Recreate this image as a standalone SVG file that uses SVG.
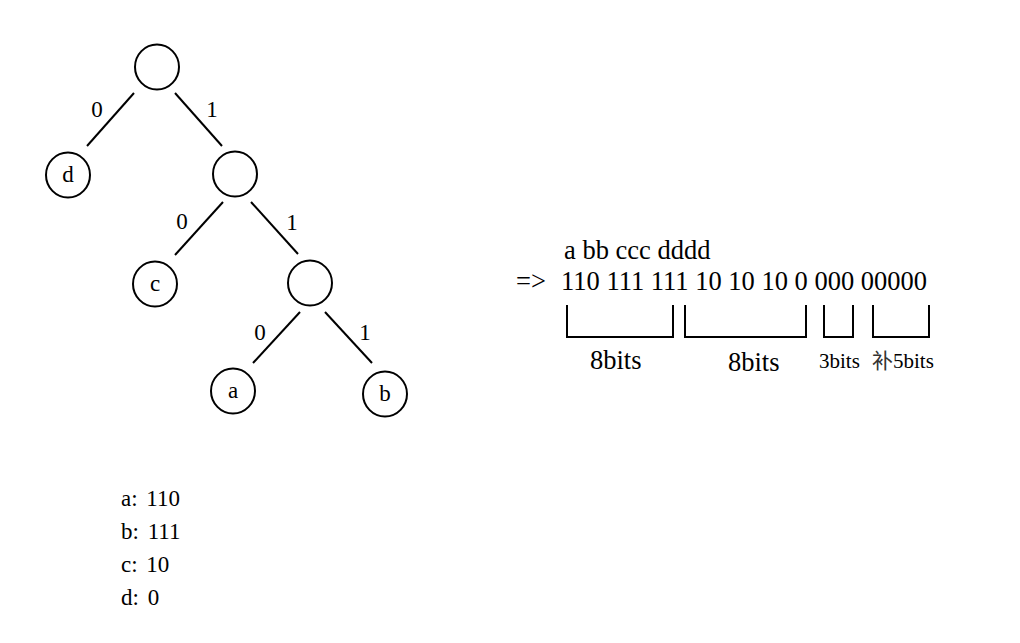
<svg xmlns="http://www.w3.org/2000/svg" width="1020" height="643" viewBox="0 0 1020 643">
<style>
.node{fill:#fff;stroke:#000;stroke-width:2}
.edge{stroke:#000;stroke-width:2;fill:none}
.t{font-family:'Liberation Serif','Times New Roman',serif;fill:#000}
.cjk{font-family:'Noto Sans CJK SC',sans-serif}
.lbl{font-size:23px;text-anchor:middle}
.big{font-size:26.5px}
.sm{font-size:21px}
.list{font-size:23px;word-spacing:3px}
</style>
<rect width="1020" height="643" fill="#fff"/>
<g id="connectors">
<line class="edge" x1="134" y1="93" x2="87" y2="146"/>
<line class="edge" x1="175" y1="93" x2="222" y2="146"/>
<line class="edge" x1="223" y1="202" x2="175" y2="255"/>
<line class="edge" x1="251" y1="202" x2="298" y2="254"/>
<line class="edge" x1="300" y1="312" x2="253" y2="363"/>
<line class="edge" x1="325" y1="312" x2="372" y2="363"/>
<text class="t lbl" x="97" y="117">0</text>
<text class="t lbl" x="212" y="117">1</text>
<text class="t lbl" x="182" y="229">0</text>
<text class="t lbl" x="292" y="230">1</text>
<text class="t lbl" x="260" y="340">0</text>
<text class="t lbl" x="365" y="340">1</text>
</g>
<g id="root"><ellipse class="node" cx="157" cy="67" rx="22" ry="22.5"/></g>
<g id="node-d"><ellipse class="node" cx="68" cy="175" rx="22" ry="22.5"/><text class="t lbl" x="68" y="182">d</text></g>
<g id="node-1"><ellipse class="node" cx="235" cy="174" rx="22" ry="22.5"/></g>
<g id="node-c"><ellipse class="node" cx="155" cy="284" rx="22" ry="22.5"/><text class="t lbl" x="155" y="291">c</text></g>
<g id="node-11"><ellipse class="node" cx="310" cy="283" rx="22" ry="22.5"/></g>
<g id="node-a"><ellipse class="node" cx="233" cy="391" rx="22" ry="22.5"/><text class="t lbl" x="233" y="398">a</text></g>
<g id="node-b"><ellipse class="node" cx="385" cy="394" rx="22" ry="22.5"/><text class="t lbl" x="385" y="401">b</text></g>
<g id="encoding">
<text class="t big" x="564" y="259">a bb ccc dddd</text>
<text class="t big" x="516" y="290">=&gt;</text>
<text class="t big" x="561" y="290">110 111 111 10 10 10 0 000 00000</text>
<path class="edge" d="M567 305V337H673V305"/>
<path class="edge" d="M685 305V337H806V305"/>
<path class="edge" d="M824 305V337H853V305"/>
<path class="edge" d="M873 305V337H929V305"/>
<text class="t big" x="590" y="369">8bits</text>
<text class="t big" x="728" y="371">8bits</text>
<text class="t sm" x="819" y="368">3bits</text>
<text class="t sm" x="872" y="368"><tspan class="cjk" fill="#333">补</tspan>5bits</text>
</g>
<g id="codes">
<text class="t list" x="121" y="506">a: 110</text>
<text class="t list" x="121" y="539">b: 111</text>
<text class="t list" x="121" y="572">c: 10</text>
<text class="t list" x="121" y="605">d: 0</text>
</g>
</svg>
